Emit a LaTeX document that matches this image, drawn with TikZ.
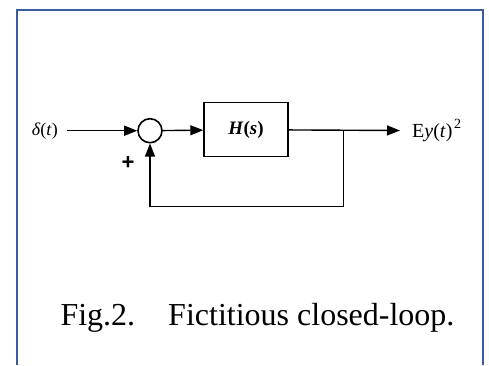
\documentclass[tikz,border=0pt]{standalone}
\usepackage{fontspec}
\setmainfont{Liberation Serif}
\setsansfont{Liberation Sans}
\usepackage{xcolor}
\usepackage{tikz}
\usetikzlibrary{arrows.meta,positioning,calc}
\definecolor{framecol}{HTML}{3A5D9F}

\begin{document}
\begin{tikzpicture}[x=1pt,y=-1pt,>={Triangle[length=13pt,width=10pt]},
  wire/.style={line width=1.4pt},
  block/.style={draw,line width=1.4pt,rectangle,minimum width=84pt,minimum height=54pt,inner sep=0pt},
  sumnode/.style={draw,line width=1.6pt,circle,minimum size=24pt,inner sep=0pt},
  lbl/.style={font=\fontsize{18}{20}\selectfont}]
  \useasboundingbox (0,0) rectangle (489,365);
  \draw[framecol,line width=2pt] (17,365) -- (17,10) -- (483,10) -- (483,365);
  \node[sumnode] (sum) at (150,130.7) {};
  \node[block,font=\fontsize{19}{21}\selectfont] (plant) at (246,129.7) {\textbf{\textit{H}(\textit{s})}};
  \node[lbl,anchor=east,inner xsep=9pt] (in) at (67,130.7) {\textit{δ}(\textit{t})};
  \node[anchor=west,inner xsep=12pt,font=\fontsize{20}{22}\selectfont] (out) at (400,130.7)
    {E\textit{y}(\textit{t})\kern1.5pt\raisebox{0.45em}{\fontsize{14}{15}\selectfont 2}};
  \coordinate (br) at (343.3,130.7);
  \coordinate (fb) at (343.3,206.7);
  \draw[wire,->] (in) -- (sum);
  \draw[wire,->] (sum) -- (plant);
  \draw[wire,->] (plant) -- (out);
  \draw[wire,->] (br) -- (fb) -| (sum);
  \node[font=\sffamily\bfseries\fontsize{22}{24}\selectfont] (plus) at (128,162.7) {+};
  \node[font=\fontsize{32}{36}\selectfont] (cap) at (257.5,318) {Fig.2.\hspace{33pt}Fictitious closed-loop.};
\end{tikzpicture}
\end{document}
